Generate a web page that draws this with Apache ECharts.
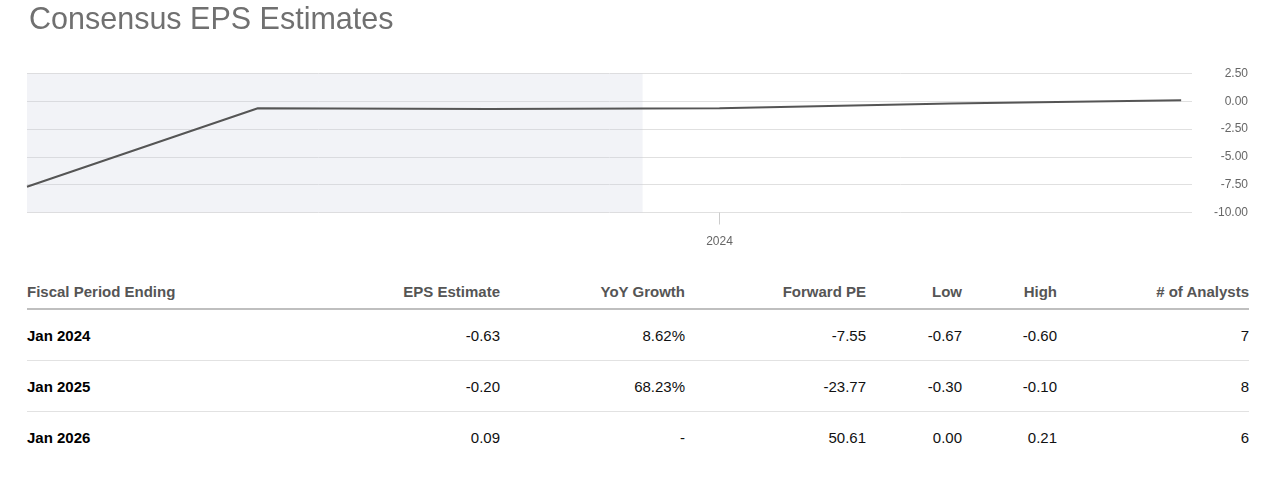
<!DOCTYPE html>
<html>
<head>
<meta charset="utf-8">
<script src="https://cdn.jsdelivr.net/npm/echarts@6/dist/echarts.min.js"></script>
<style>
  html, body { margin: 0; padding: 0; background: #fff; width: 1280px; height: 486px; overflow: hidden; font-family: 'Liberation Sans', Arial, sans-serif; }
  #chart { position: absolute; left: 0; top: 0; width: 1280px; height: 270px; }
  #tbl { position: absolute; left: 27px; top: 275px; width: 1222px; border-collapse: collapse; table-layout: fixed; font-size: 15px; }
  #tbl th { height: 33px; padding: 0; font-weight: bold; color: #555; border-bottom: 2px solid #bfbfbf; vertical-align: middle; }
  #tbl td { height: 50px; padding: 0; color: #111; border-bottom: 1px solid #e2e2e2; vertical-align: middle; }
  #tbl tr:last-child td { border-bottom: none; }
  #tbl .l { text-align: left; }
  #tbl .r { text-align: right; }
  #tbl td.l { font-weight: bold; color: #000; }
</style>
</head>
<body>
<div id="chart"></div>
<table id="tbl"></table>
<script>
// ---- chart data ----
const fiscalYears = [2021, 2022, 2023, 2024, 2025, 2026];
const epsValues = [-7.69, -0.62, -0.69, -0.63, -0.20, 0.09];
const historicalEnd = 2023.667;
const xTickYears = [2024];
const yTicks = [-10, -7.5, -5, -2.5, 0, 2.5];

// ---- table data ----
const tableHeaders = ['Fiscal Period Ending', 'EPS Estimate', 'YoY Growth', 'Forward PE', 'Low', 'High', '# of Analysts'];
const periods = ['Jan 2024', 'Jan 2025', 'Jan 2026'];
const epsEstimates = ['-0.63', '-0.20', '0.09'];
const yoyGrowth = ['8.62%', '68.23%', '-'];
const forwardPE = ['-7.55', '-23.77', '50.61'];
const lows = ['-0.67', '-0.30', '0.00'];
const highs = ['-0.60', '-0.10', '0.21'];
const analysts = ['7', '8', '6'];

const FONT = "'Liberation Sans', Arial, sans-serif";

// build table
const colWidths = [273, 200, 185, 181, 96, 95, 192];
const tbl = document.getElementById('tbl');
let html = '<colgroup>' + colWidths.map(w => '<col style="width:' + w + 'px">').join('') + '</colgroup>';
html += '<tr>' + tableHeaders.map((h, i) => '<th class="' + (i === 0 ? 'l' : 'r') + '">' + h + '</th>').join('') + '</tr>';
periods.forEach((p, i) => {
  const cells = [p, epsEstimates[i], yoyGrowth[i], forwardPE[i], lows[i], highs[i], analysts[i]];
  html += '<tr>' + cells.map((c, j) => '<td class="' + (j === 0 ? 'l' : 'r') + '">' + c + '</td>').join('') + '</tr>';
});
tbl.innerHTML = html;

// build chart
const chart = echarts.init(document.getElementById('chart'), null, { renderer: 'canvas' });
chart.setOption({
  animation: false,
  title: {
    text: 'Consensus EPS Estimates',
    left: 24, top: 0,
    textStyle: { fontFamily: FONT, fontSize: 30.5, fontWeight: 'normal', color: '#707070' }
  },
  grid: { left: 27, right: 88, top: 73.5, bottom: 57.5, containLabel: false, outerBoundsMode: 'none' },
  xAxis: {
    type: 'value',
    min: 2021, max: 2026.047,
    axisLine: { show: false, onZero: false },
    splitLine: { show: false },
    axisTick: { show: true, length: 12, lineStyle: { color: '#cccccc' }, customValues: xTickYears },
    axisLabel: { show: true, margin: 23, color: '#666', fontFamily: FONT, fontSize: 12, customValues: xTickYears, formatter: v => String(Math.round(v)) }
  },
  yAxis: {
    type: 'value',
    position: 'right',
    min: -10, max: 2.5, interval: 2.5,
    axisLine: { show: false },
    axisTick: { show: false },
    splitLine: { show: true, lineStyle: { color: '#e0e0e0', width: 1 } },
    axisLabel: { margin: 56, align: 'right', color: '#666', fontFamily: FONT, fontSize: 12, formatter: v => v.toFixed(2) }
  },
  series: [{
    type: 'line',
    data: fiscalYears.map((y, i) => [y, epsValues[i]]),
    showSymbol: false,
    symbol: 'none',
    lineStyle: { color: '#555555', width: 2 },
    markArea: {
      silent: true,
      itemStyle: { color: 'rgba(200,205,220,0.24)' },
      data: [[{ xAxis: fiscalYears[0] }, { xAxis: historicalEnd }]]
    }
  }]
});
</script>
</body>
</html>
